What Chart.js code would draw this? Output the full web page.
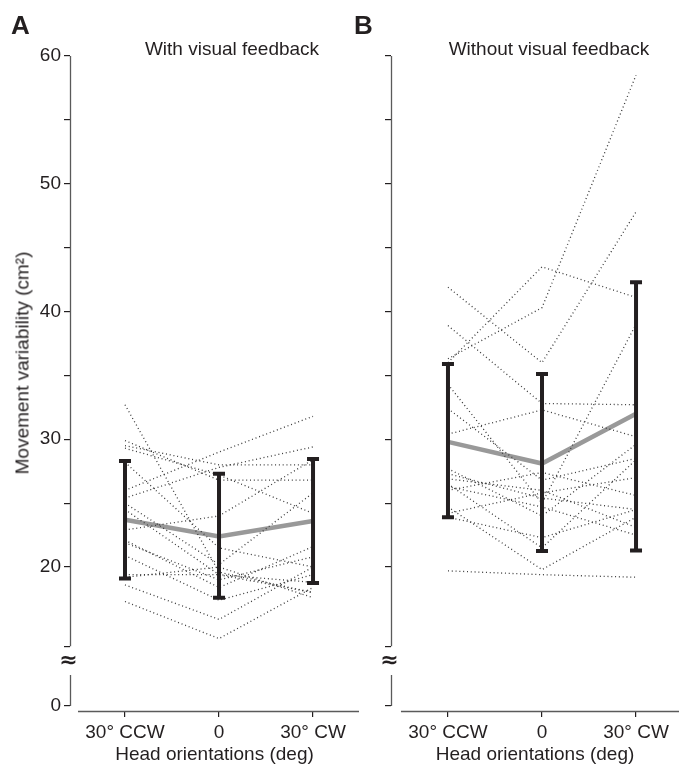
<!DOCTYPE html>
<html>
<head>
<meta charset="utf-8">
<script src="https://cdn.jsdelivr.net/npm/chart.js@4.4.1/dist/chart.umd.min.js"></script>
<style>
  body { margin: 0; background: #fff; width: 679px; height: 764px; position: relative; overflow: hidden;
         font-family: 'Liberation Sans', Arial, sans-serif; color: #231f20; }
  .box { position: absolute; top: 0; height: 764px; }
  #boxA { left: 0; width: 362px; }
  #boxB { left: 362px; width: 317px; }
  .lbl { position: absolute; font-weight: bold; font-size: 26px; line-height: 26px; }
  .ttl { position: absolute; font-size: 19px; line-height: 19px; transform: translateX(-50%); white-space: nowrap; }
  .ytitle { position: absolute; font-size: 19px; line-height: 19px; white-space: nowrap;
            transform: translate(-50%, -50%) rotate(-90deg); }
</style>
</head>
<body>
<div class="box" id="boxA"><canvas id="chartA"></canvas></div>
<div class="box" id="boxB"><canvas id="chartB"></canvas></div>
<div class="lbl" style="left:11px;top:12px">A</div>
<div class="lbl" style="left:354px;top:12px">B</div>
<div class="ttl" style="left:232px;top:39px">With visual feedback</div>
<div class="ttl" style="left:549px;top:39px">Without visual feedback</div>
<div class="ytitle" style="left:22px;top:363px">Movement variability (cm²)</div>
<script>
// head orientations
var categories = ["30° CCW", "0", "30° CW"];

// tick labels on the broken y axis (0 sits below the break)
var yTickLabels = [0, 20, 30, 40, 50, 60];
var yMinorTicks = [25, 35, 45, 55];

// A: with visual feedback, one row per subject (CCW, 0, CW)
var subjectsA = [
  [32.7, 19.6, 18.0],
  [29.9, 26.8, 26.8],
  [29.5, 28.0, 28.0],
  [29.3, 27.2, 24.2],
  [28.2, 21.5, 20.0],
  [26.0, 29.0, 31.8],
  [25.4, 27.8, 29.4],
  [25.0, 20.2, 25.8],
  [24.5, 19.4, 18.8],
  [22.9, 24.0, 28.4],
  [22.1, 18.4, 21.6],
  [21.9, 19.0, 20.8],
  [20.9, 17.4, 19.4],
  [19.4, 19.4, 18.0],
  [19.2, 20.0, 17.6],
  [18.6, 15.9, 20.0],
  [17.3, 14.4, 18.4]
];
var meanA = [23.7, 22.4, 23.6];
var upperA = [28.3, 27.3, 28.45];
var lowerA = [19.1, 17.6, 18.75];

// B: without visual feedback
var subjectsB = [
  [36.3, 40.3, 58.5],
  [36.0, 43.5, 41.1],
  [41.9, 36.0, 47.8],
  [38.9, 32.8, 32.7],
  [34.3, 25.0, 39.0],
  [32.4, 26.8, 28.5],
  [30.4, 32.3, 30.2],
  [27.7, 24.0, 29.6],
  [27.3, 25.4, 24.5],
  [26.9, 26.0, 23.1],
  [26.5, 21.5, 28.4],
  [26.3, 24.7, 22.5],
  [26.0, 27.4, 25.6],
  [24.7, 19.8, 23.9],
  [24.2, 25.8, 27.0],
  [23.9, 22.3, 24.5],
  [19.7, 19.4, 19.2]
];
var meanB = [29.8, 28.1, 32.0];
var upperB = [35.9, 35.1, 42.3];
var lowerB = [23.9, 21.25, 21.3];

// axis break: value where "0" is drawn, and where the two axis pieces end
var yZero = 9.12;
var breakTop = 13.8;
var breakBottom = 11.55;

var ink = "#231f20";
var font19 = { family: "'Liberation Sans', Arial, sans-serif", size: 19 };

var brokenAxis = {
  id: "brokenAxis",
  afterDraw: function (chart) {
    var ctx = chart.ctx, y = chart.scales.y, x = chart.scales.x, area = chart.chartArea;
    var ax = area.left + 0.5;
    ctx.save();
    ctx.strokeStyle = "#5a5a5a";
    ctx.lineWidth = 1.3;
    ctx.beginPath();
    ctx.moveTo(ax, y.getPixelForValue(60));
    ctx.lineTo(ax, y.getPixelForValue(breakTop));
    ctx.moveTo(ax, y.getPixelForValue(breakBottom));
    ctx.lineTo(ax, y.getPixelForValue(yZero));
    // x axis starts half a category before the first one
    ctx.moveTo(x.getPixelForValue(-0.5), area.bottom + 0.5);
    ctx.lineTo(area.right, area.bottom + 0.5);
    ctx.stroke();
    ctx.fillStyle = ink;
    ctx.font = "bold 22px 'DejaVu Sans'";
    ctx.textAlign = "center";
    ctx.textBaseline = "middle";
    ctx.fillText("≈", ax - 2, (y.getPixelForValue(breakTop) + y.getPixelForValue(breakBottom)) / 2 + 1);
    ctx.restore();
  }
};

function errorBars(upper, lower) {
  return {
    id: "errorBars",
    afterDatasetsDraw: function (chart) {
      var ctx = chart.ctx, x = chart.scales.x, y = chart.scales.y;
      ctx.save();
      ctx.strokeStyle = ink;
      ctx.lineWidth = 4;
      for (var i = 0; i < categories.length; i++) {
        var px = x.getPixelForValue(i);
        var top = y.getPixelForValue(upper[i]);
        var bot = y.getPixelForValue(lower[i]);
        ctx.beginPath();
        ctx.moveTo(px, top);
        ctx.lineTo(px, bot);
        ctx.moveTo(px - 6, top);
        ctx.lineTo(px + 6, top);
        ctx.moveTo(px - 6, bot);
        ctx.lineTo(px + 6, bot);
        ctx.stroke();
      }
      ctx.restore();
    }
  };
}

function makePanel(id, subjects, mean, upper, lower, xMin, xMax, yWidth, showLabels) {
  var datasets = subjects.map(function (s) {
    return {
      data: s.map(function (v, i) { return { x: i, y: v }; }),
      borderColor: "#3a3a3a",
      borderWidth: 1.3,
      borderDash: [1, 2.8],
      pointRadius: 0,
      fill: false
    };
  });
  datasets.push({
    data: mean.map(function (v, i) { return { x: i, y: v }; }),
    borderColor: "#999999",
    borderWidth: 4.5,
    pointRadius: 0,
    fill: false
  });

  var yTicks = [yZero, breakTop].concat(yTickLabels.slice(1), yMinorTicks);

  return new Chart(document.getElementById(id).getContext("2d"), {
    type: "line",
    data: { datasets: datasets },
    plugins: [brokenAxis, errorBars(upper, lower)],
    options: {
      responsive: true,
      maintainAspectRatio: false,
      animation: false,
      layout: { padding: { top: 56, right: showLabels ? 3 : 0, bottom: 0, left: 0 } },
      plugins: { legend: { display: false }, tooltip: { enabled: false } },
      scales: {
        x: {
          type: "linear",
          min: xMin,
          max: xMax,
          afterBuildTicks: function (s) {
            s.ticks = categories.map(function (c, i) { return { value: i }; });
          },
          afterFit: function (s) { s.height = 53; },
          ticks: {
            autoSkip: false,
            maxRotation: 0,
            padding: 4,
            color: ink,
            font: font19,
            callback: function (v) { return categories[v]; }
          },
          grid: { drawOnChartArea: false, drawTicks: true, tickLength: 6, color: ink, lineWidth: 1.2 },
          border: { display: false },
          title: { display: true, text: "Head orientations (deg)", color: ink, font: font19, padding: { top: 0, bottom: -2 } }
        },
        y: {
          type: "linear",
          min: 8.73,
          max: 60,
          afterBuildTicks: function (s) {
            s.ticks = yTicks.map(function (v) { return { value: v }; });
          },
          afterFit: function (s) { s.width = yWidth; },
          ticks: {
            autoSkip: false,
            padding: 3,
            color: ink,
            font: font19,
            callback: function (v) {
              if (!showLabels) return "";
              if (v === yZero) return "0";
              return yTickLabels.indexOf(v) >= 0 ? String(v) : "";
            }
          },
          grid: { drawOnChartArea: false, drawTicks: true, tickLength: 6, color: ink, lineWidth: 1.2 },
          border: { display: false }
        }
      }
    }
  });
}

makePanel("chartA", subjectsA, meanA, upperA, lowerA, -0.585, 2.489, 70, true);
makePanel("chartB", subjectsB, meanB, upperB, lowerB, -0.606, 2.457, 29, false);
</script>
</body>
</html>
